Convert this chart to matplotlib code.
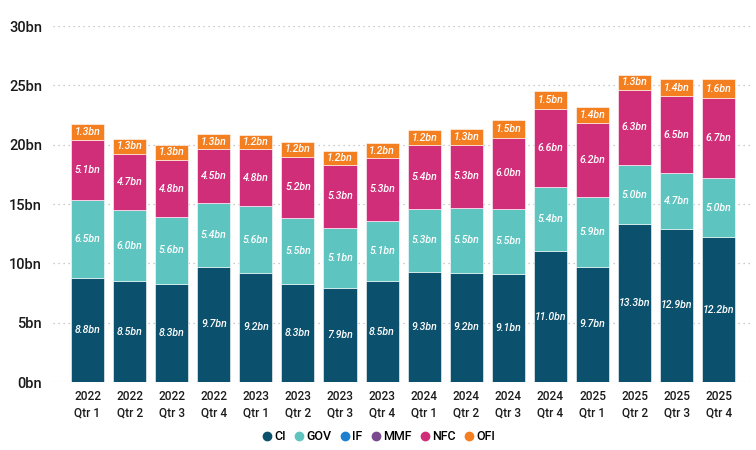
import matplotlib
matplotlib.use("Agg")
import matplotlib.pyplot as plt
from matplotlib.lines import Line2D
import numpy as np

categories = ["2022\nQtr 1", "2022\nQtr 2", "2022\nQtr 3", "2022\nQtr 4",
              "2023\nQtr 1", "2023\nQtr 2", "2023\nQtr 3", "2023\nQtr 4",
              "2024\nQtr 1", "2024\nQtr 2", "2024\nQtr 3", "2024\nQtr 4",
              "2025\nQtr 1", "2025\nQtr 2", "2025\nQtr 3", "2025\nQtr 4"]
CI  = [8.8, 8.5, 8.3, 9.7, 9.2, 8.3, 7.9, 8.5, 9.3, 9.2, 9.1, 11.0, 9.7, 13.3, 12.9, 12.2]
GOV = [6.5, 6.0, 5.6, 5.4, 5.6, 5.5, 5.1, 5.1, 5.3, 5.5, 5.5, 5.4, 5.9, 5.0, 4.7, 5.0]
IF  = [0.0] * 16
MMF = [0.0] * 16
NFC = [5.1, 4.7, 4.8, 4.5, 4.8, 5.2, 5.3, 5.3, 5.4, 5.3, 6.0, 6.6, 6.2, 6.3, 6.5, 6.7]
OFI = [1.3, 1.3, 1.3, 1.3, 1.2, 1.2, 1.2, 1.2, 1.2, 1.3, 1.5, 1.5, 1.4, 1.3, 1.4, 1.6]
series_names = ["CI", "GOV", "IF", "MMF", "NFC", "OFI"]
yticks = [0, 5, 10, 15, 20, 25, 30]

colors = {"CI": "#0B516D", "GOV": "#5DC4C0", "IF": "#1F80D0",
          "MMF": "#7A4A8E", "NFC": "#D12E7A", "OFI": "#F47F20"}
series = {"CI": CI, "GOV": GOV, "IF": IF, "MMF": MMF, "NFC": NFC, "OFI": OFI}

plt.rcParams['font.family'] = ['Roboto', 'DejaVu Sans']
fig = plt.figure(figsize=(7.56, 4.5), dpi=100)
ax = fig.add_axes([53/756, 1 - 382/450, (752-53)/756, (382-26)/450])

x = np.arange(len(categories))
bottom = np.zeros(len(categories))
for name in series_names:
    vals = np.array(series[name], dtype=float)
    ax.bar(x, vals, bottom=bottom, width=0.785, color=colors[name],
           edgecolor="white", linewidth=0.4, zorder=3)
    for xi, v, b in zip(x, vals, bottom):
        if v > 0:
            ax.text(xi, b + v / 2, f"{v:.1f}bn", ha="center", va="center",
                    color="white", fontsize=7.6, fontstyle="italic",
                    fontweight="medium", zorder=4)
    bottom += vals

ax.set_xlim(-0.82, len(categories) - 1 + 0.79)
ax.set_ylim(0, 30)
ax.set_yticks(yticks)
ax.set_yticklabels([f"{t}bn" for t in yticks], fontsize=10.5, color="#1A1A1A",
                   fontweight="medium")
ax.set_xticks(x)
ax.set_xticklabels(categories, fontsize=8.6, color="#1A1A1A", linespacing=1.3,
                   fontweight="medium")
ax.tick_params(axis="both", length=0)
ax.tick_params(axis="y", pad=8)
ax.tick_params(axis="x", pad=6)
for s in ax.spines.values():
    s.set_visible(False)
ax.yaxis.grid(True, linestyle=(0, (1, 3)), color="#BBBBBB", linewidth=0.9, zorder=0)
ax.set_axisbelow(True)

handles = [Line2D([0], [0], marker="o", linestyle="", markersize=6,
                  markerfacecolor=colors[n], markeredgecolor=colors[n]) for n in series_names]
fig.legend(handles, series_names, loc="center", bbox_to_anchor=(378/756, 1 - 437/450),
           ncol=6, frameon=False, fontsize=9, handletextpad=0.05, columnspacing=0.6,
           handlelength=1.0, prop={"weight": "medium", "size": 9})

fig.savefig("out.png", dpi=100)
